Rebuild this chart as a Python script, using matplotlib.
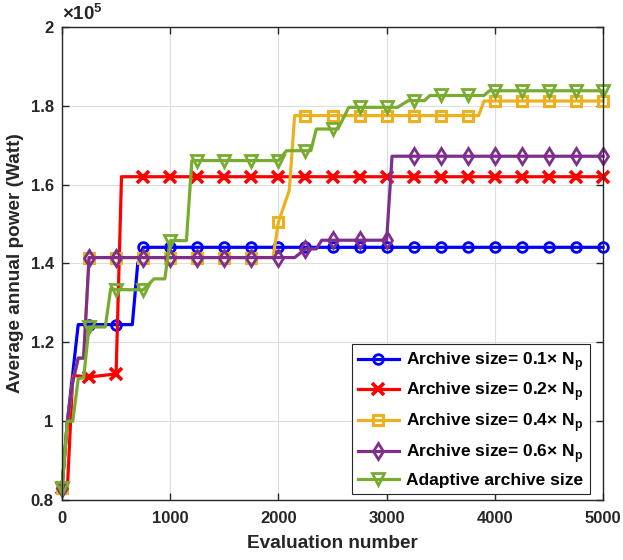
import numpy as np
import matplotlib
matplotlib.use("Agg")
import matplotlib.pyplot as plt
from matplotlib.ticker import FuncFormatter

plt.rcParams['font.family'] = ['Liberation Sans', 'DejaVu Sans']
plt.rcParams['font.weight'] = 'bold'
plt.rcParams['mathtext.fontset'] = 'custom'
plt.rcParams['mathtext.rm'] = 'Liberation Sans'
plt.rcParams['mathtext.bf'] = 'Liberation Sans:bold'

# average annual power, in units of 1e5 W
eval_01 = [0, 50, 150, 250, 500, 650, 700, 750, 1000, 1250, 1500, 1750, 2000, 2250, 2500,
           2750, 3000, 3250, 3500, 3750, 4000, 4250, 4500, 4750, 5000]
power_01 = [0.833, 1.0, 1.245, 1.245, 1.245, 1.245, 1.40, 1.441, 1.441, 1.441, 1.441, 1.441,
            1.441, 1.441, 1.441, 1.441, 1.441, 1.441, 1.441, 1.441, 1.441, 1.441, 1.441, 1.441, 1.441]

eval_02 = [0, 50, 100, 250, 500, 550, 750, 1000, 1250, 1500, 1750, 2000, 2250, 2500, 2750,
           3000, 3250, 3500, 3750, 4000, 4250, 4500, 4750, 5000]
power_02 = [0.83, 0.83, 1.116, 1.112, 1.12, 1.62, 1.62, 1.62, 1.62, 1.62, 1.62, 1.62, 1.62,
            1.62, 1.62, 1.62, 1.62, 1.62, 1.62, 1.62, 1.62, 1.62, 1.62, 1.62]

eval_04 = [0, 50, 100, 150, 200, 250, 500, 750, 1000, 1250, 1500, 1750, 1950, 2000, 2100, 2150,
           2250, 2500, 2750, 3000, 3250, 3500, 3750, 3850, 3900, 4000, 4250, 4500, 4750, 5000]
power_04 = [0.83, 1.0, 1.10, 1.16, 1.16, 1.415, 1.415, 1.415, 1.415, 1.415, 1.415, 1.415, 1.415,
            1.505, 1.585, 1.775, 1.775, 1.775, 1.775, 1.775, 1.775, 1.775, 1.775, 1.775, 1.812,
            1.812, 1.812, 1.812, 1.812, 1.812]

eval_06 = [0, 50, 100, 150, 200, 250, 500, 750, 1000, 1250, 1500, 1750, 2000, 2150, 2250, 2350,
           2400, 2500, 2750, 3000, 3050, 3250, 3500, 3750, 4000, 4250, 4500, 4750, 5000]
power_06 = [0.83, 1.0, 1.10, 1.16, 1.16, 1.415, 1.415, 1.415, 1.415, 1.415, 1.415, 1.415, 1.415,
            1.415, 1.437, 1.437, 1.459, 1.459, 1.459, 1.459, 1.672, 1.672, 1.672, 1.672, 1.672,
            1.672, 1.672, 1.672, 1.672]

eval_ad = [0, 50, 100, 150, 200, 250, 400, 450, 500, 750, 850, 950, 1000, 1150, 1200, 1250, 1500,
           1750, 2000, 2075, 2250, 2300, 2350, 2500, 2550, 2650, 2750, 3000, 3100, 3200, 3250,
           3350, 3400, 3500, 3750, 3900, 3950, 4000, 4250, 4500, 4750, 5000]
power_ad = [0.83, 1.0, 1.0, 1.108, 1.11, 1.239, 1.239, 1.336, 1.334, 1.333, 1.361, 1.361, 1.458,
            1.458, 1.661, 1.661, 1.661, 1.661, 1.661, 1.686, 1.686, 1.686, 1.741, 1.741, 1.741,
            1.796, 1.796, 1.796, 1.796, 1.813, 1.813, 1.813, 1.826, 1.826, 1.826, 1.826, 1.838,
            1.838, 1.838, 1.838, 1.838, 1.838]

labels = [r'Archive size= 0.1$\times$ N$_{\mathbf{p}}$',
          r'Archive size= 0.2$\times$ N$_{\mathbf{p}}$',
          r'Archive size= 0.4$\times$ N$_{\mathbf{p}}$',
          r'Archive size= 0.6$\times$ N$_{\mathbf{p}}$',
          'Adaptive archive size']

series = [(eval_01, power_01, '#0000FF', 'o', 7, 2.0),
          (eval_02, power_02, '#FF0000', 'x', 8, 2.6),
          (eval_04, power_04, '#EDB120', 's', 6.5, 2.2),
          (eval_06, power_06, '#7E2F8E', 'd', 8, 2.0),
          (eval_ad, power_ad, '#77AC30', 'v', 9, 2.0)]

fig = plt.figure(figsize=(6.23, 5.6), dpi=100)
ax = fig.add_axes([0.0995, 0.107, 0.8685, 0.845])

for (xs, ys, col, mk, ms, mew), lab in zip(series, labels):
    xs = np.array(xs)
    marks = list(np.where(xs % 250 == 0)[0])
    ax.plot(xs, ys, color=col, lw=2.3, marker=mk, markersize=ms, markeredgewidth=mew,
            markerfacecolor='none', markevery=marks, label=lab, clip_on=False)

ax.set_xlim(0, 5000)
ax.set_ylim(0.8, 2.0)
ax.set_xticks(np.arange(0, 5001, 1000))
ax.set_yticks([0.8, 1.0, 1.2, 1.4, 1.6, 1.8, 2.0])
ax.yaxis.set_major_formatter(FuncFormatter(lambda v, p: '%g' % round(v, 2)))
ax.grid(True, color='#dedede', lw=0.8)
ax.tick_params(direction='in', top=True, right=True, length=5, width=1,
               labelsize=12, colors='#262626')
ax.tick_params(axis='x', pad=8)
ax.tick_params(axis='y', pad=6)
for s in ax.spines.values():
    s.set_color('#262626')
    s.set_linewidth(1)

ax.set_xlabel('Evaluation number', fontsize=13.7, fontweight='bold', color='#262626', labelpad=6)
ax.set_ylabel('Average annual power (Watt)', fontsize=13.7, fontweight='bold', color='#262626', labelpad=5)
ax.text(0.0, 1.006, r'$\times10^5$', transform=ax.transAxes, fontsize=13.5,
        color='#262626', va='bottom', ha='left')

leg = ax.legend(loc='lower right', bbox_to_anchor=(0.975, 0.013), fontsize=12.5,
                fancybox=False, framealpha=1, edgecolor='#262626', handlelength=2.4,
                labelspacing=0.45, borderpad=0.35, handletextpad=0.4, borderaxespad=0)
leg.get_frame().set_linewidth(0.8)

fig.savefig('out.png', dpi=100)
